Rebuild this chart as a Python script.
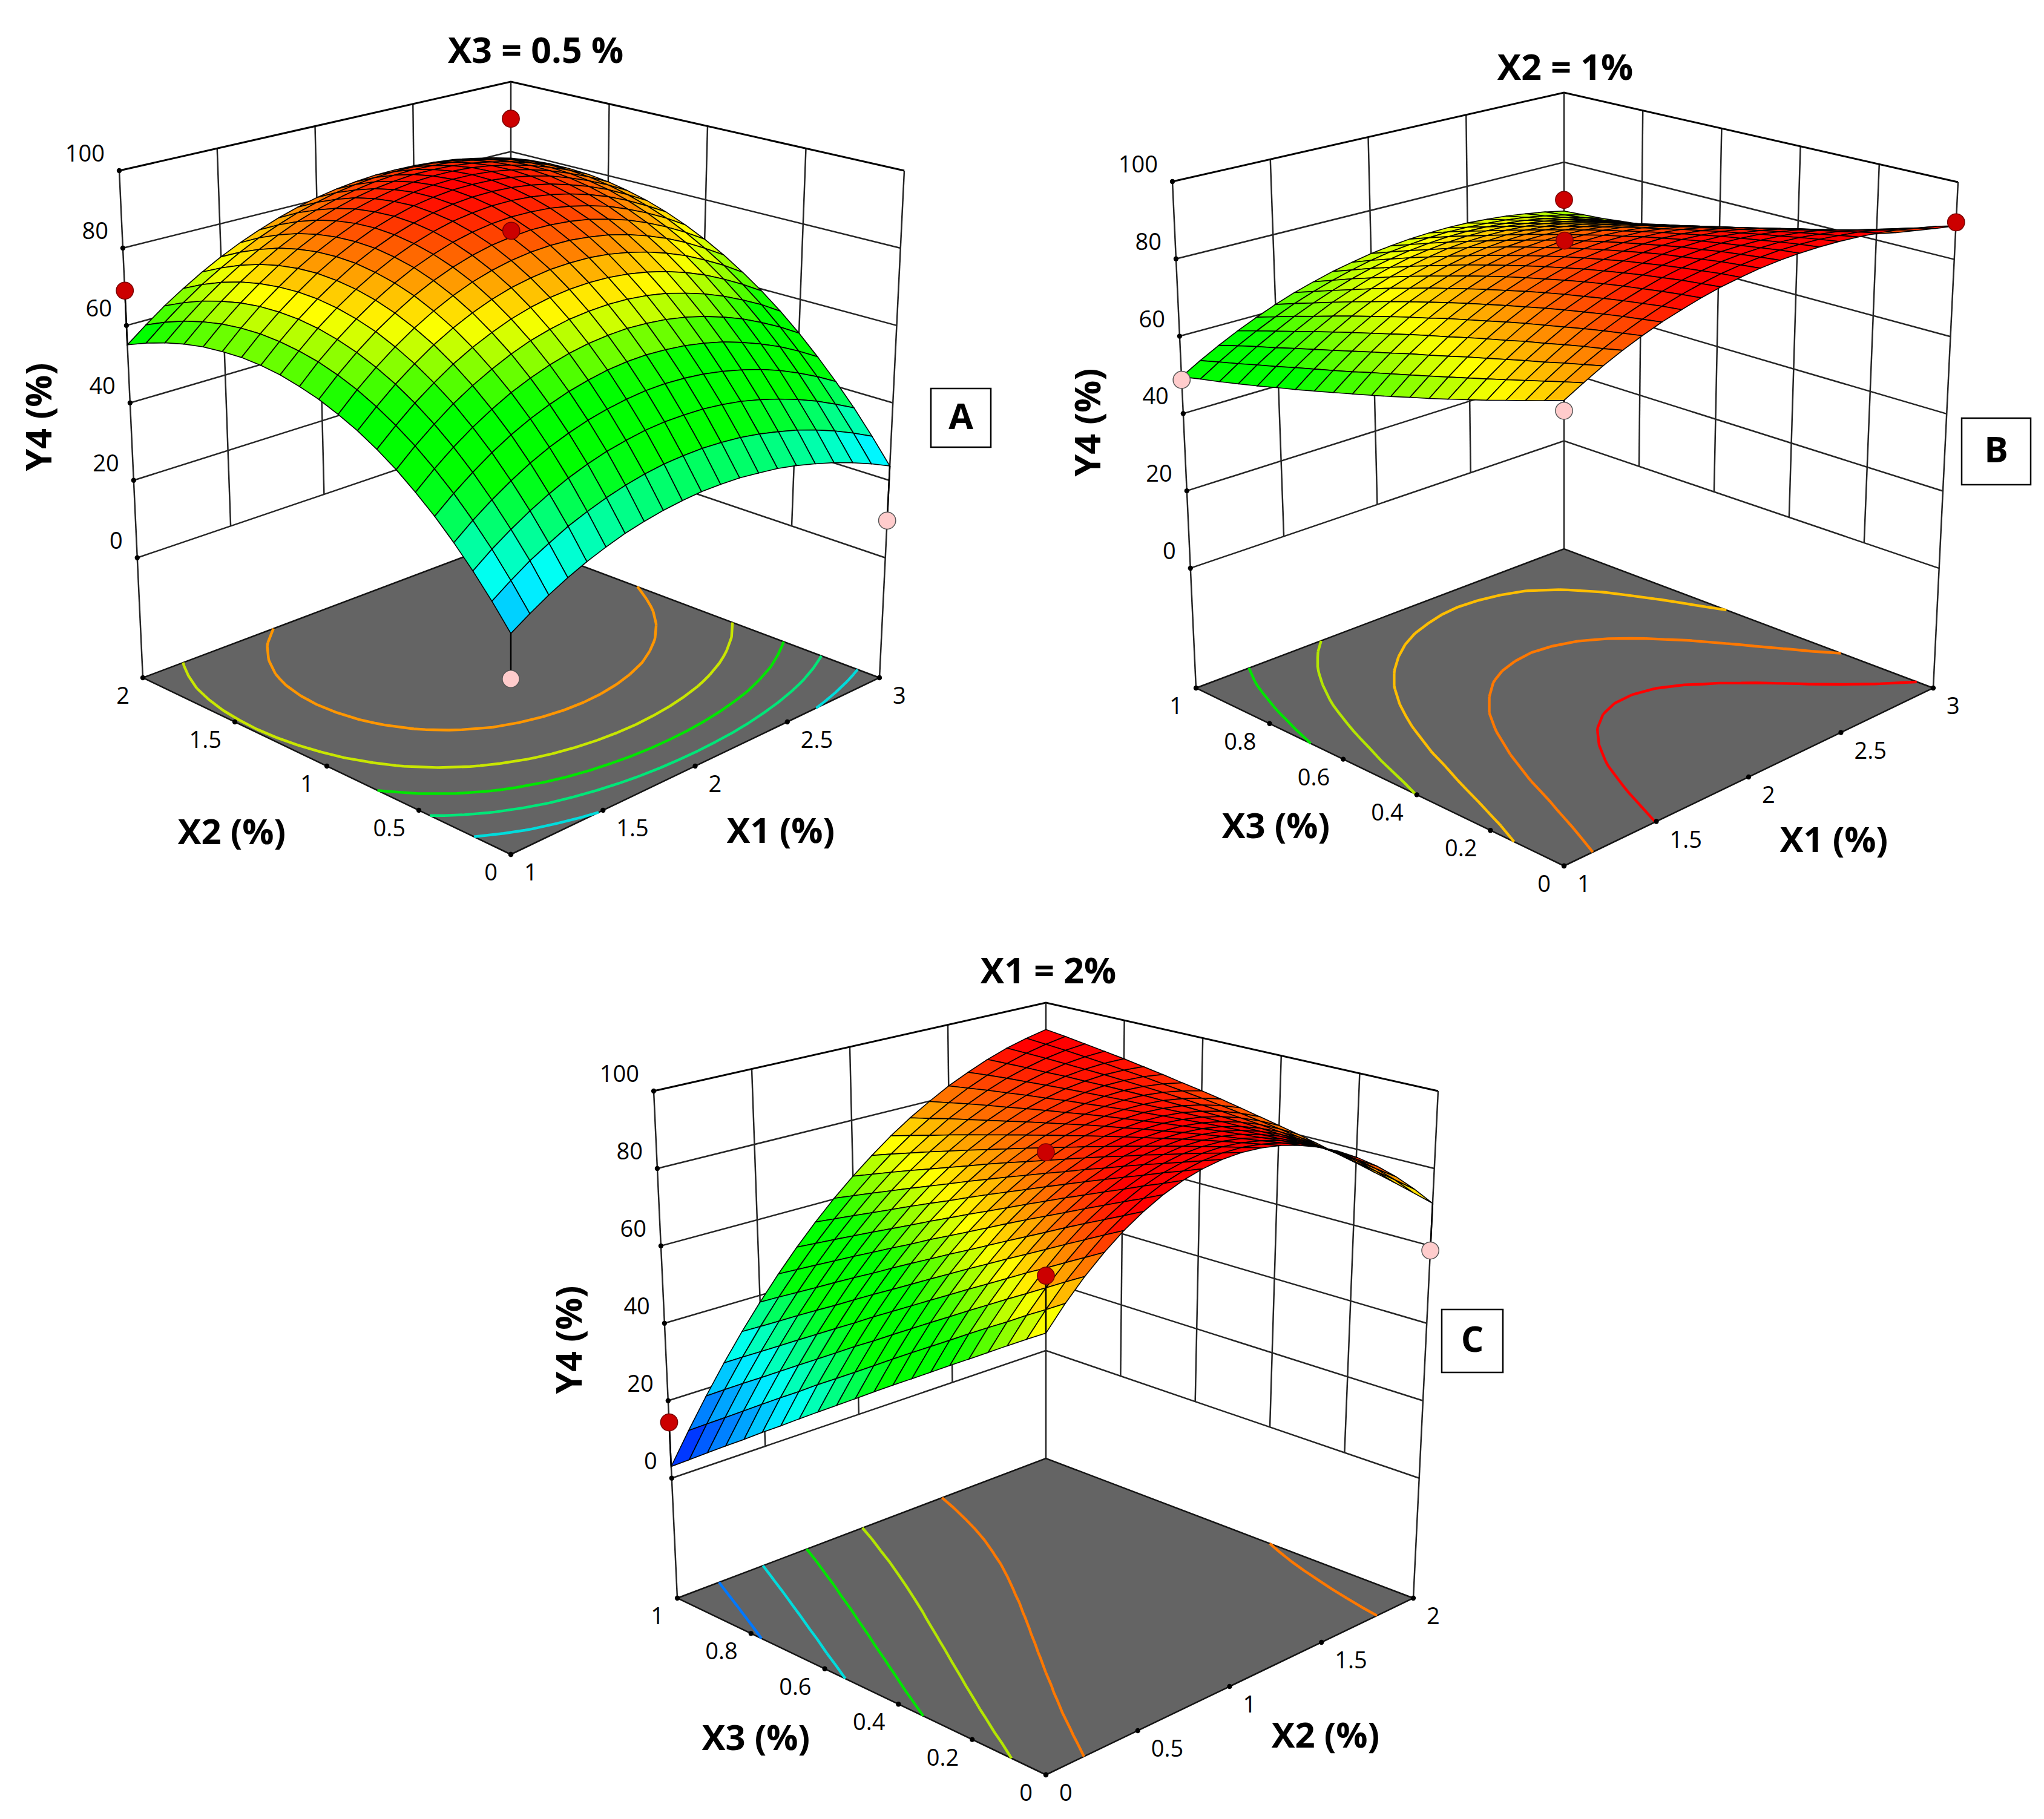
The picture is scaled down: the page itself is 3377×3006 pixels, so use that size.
import numpy as np, pandas as pd, altair as alt

W, H, M = 3361, 2990, 8
Z_TICKS = [0, 20, 40, 60, 80, 100]
Z_FLOOR = -31

# screen corners: floor front/right/left/back, then top front/right/left/back
A_CORNERS = [(844,1412),(1453,1120),(236,1120),(844,891),(844,474),(1494,282),(197,282),(844,135)]
B_CORNERS = [(2584,1431),(3194,1137),(1976,1137),(2584,907),(2584,489),(3235,301),(1937,300),(2584,153)]
C_CORNERS = [(1728,2933),(2335,2641),(1119,2641),(1728,2410),(1728,1991),(2376,1803),(1080,1803),(1728,1657)]

A_RIGHT = ["1","1.5","2","2.5","3"]; A_LEFT = ["0","0.5","1","1.5","2"]
B_RIGHT = ["1","1.5","2","2.5","3"]; B_LEFT = ["0","0.2","0.4","0.6","0.8","1"]
C_RIGHT = ["0","0.5","1","1.5","2"]; C_LEFT = ["0","0.2","0.4","0.6","0.8","1"]

# Y4: one row per step along the left floor axis, one value per step along the right floor axis
Z_A = [
[20.0,22.8,25.4,27.7,29.7,31.4,32.9,34.0,34.9,35.5,35.9,35.9,35.7,35.1,34.4,33.3,31.9,30.3,28.4,26.2,23.7],
[25.7,28.8,31.7,34.1,36.4,38.2,39.8,41.1,42.1,42.8,43.1,43.2,42.9,42.4,41.5,40.3,38.9,37.1,35.0,32.6,29.9],
[31.0,34.4,37.4,40.1,42.5,44.6,46.3,47.7,48.7,49.5,49.9,49.9,49.7,49.1,48.2,46.9,45.3,43.4,41.2,38.6,35.8],
[35.9,39.5,42.7,45.6,48.2,50.4,52.2,53.7,54.8,55.6,56.1,56.2,55.9,55.3,54.3,53.0,51.4,49.4,47.0,44.3,41.2],
[40.4,44.2,47.6,50.7,53.4,55.7,57.6,59.2,60.4,61.3,61.8,61.9,61.6,61.0,60.0,58.7,56.9,54.8,52.4,49.5,46.3],
[44.4,48.4,52.0,55.2,58.0,60.5,62.5,64.2,65.5,66.4,66.9,67.1,66.8,66.2,65.2,63.8,62.0,59.9,57.3,54.4,51.1],
[48.1,52.2,55.9,59.3,62.2,64.7,66.9,68.7,70.0,71.0,71.5,71.7,71.5,70.9,69.9,68.4,66.6,64.4,61.8,58.9,55.5],
[51.3,55.5,59.4,62.8,65.9,68.5,70.7,72.6,74.0,75.0,75.6,75.8,75.6,75.0,74.0,72.6,70.8,68.6,65.9,62.9,59.5],
[54.1,58.4,62.4,65.9,69.1,71.8,74.1,76.0,77.5,78.5,79.2,79.4,79.3,78.7,77.7,76.3,74.5,72.3,69.6,66.6,63.1],
[56.4,60.9,64.9,68.5,71.7,74.5,76.9,78.9,80.4,81.5,82.2,82.5,82.4,81.8,80.9,79.5,77.7,75.5,72.9,69.8,66.4],
[58.4,62.9,67.0,70.7,73.9,76.8,79.2,81.2,82.8,84.0,84.7,85.1,85.0,84.5,83.6,82.2,80.5,78.3,75.7,72.7,69.3],
[59.9,64.5,68.6,72.3,75.6,78.5,81.0,83.0,84.7,85.9,86.7,87.1,87.0,86.6,85.7,84.4,82.8,80.6,78.1,75.2,71.8],
[61.1,65.6,69.8,73.5,76.8,79.7,82.2,84.3,86.0,87.3,88.1,88.6,88.6,88.2,87.4,86.2,84.6,82.6,80.1,77.2,74.0],
[61.8,66.3,70.5,74.2,77.5,80.5,83.0,85.1,86.8,88.1,89.0,89.5,89.6,89.3,88.6,87.5,85.9,84.0,81.7,78.9,75.8],
[62.1,66.6,70.7,74.4,77.8,80.7,83.2,85.4,87.1,88.5,89.4,90.0,90.1,89.9,89.3,88.3,86.9,85.0,82.8,80.2,77.2],
[61.9,66.4,70.5,74.1,77.5,80.4,82.9,85.1,86.8,88.2,89.3,89.9,90.1,90.0,89.5,88.6,87.3,85.6,83.5,81.1,78.3],
[61.4,65.8,69.8,73.4,76.7,79.6,82.1,84.3,86.1,87.5,88.6,89.3,89.6,89.6,89.2,88.4,87.2,85.7,83.8,81.6,79.0],
[60.4,64.7,68.6,72.2,75.4,78.3,80.8,83.0,84.8,86.3,87.4,88.1,88.6,88.6,88.3,87.7,86.7,85.4,83.7,81.7,79.3],
[59.0,63.2,67.0,70.5,73.6,76.4,78.9,81.1,82.9,84.4,85.6,86.5,87.0,87.2,87.0,86.6,85.8,84.6,83.2,81.4,79.3],
[57.2,61.2,64.9,68.3,71.3,74.1,76.6,78.7,80.6,82.1,83.4,84.3,84.9,85.2,85.2,84.9,84.3,83.4,82.2,80.7,78.9],
[55.0,58.8,62.4,65.6,68.6,71.3,73.7,75.8,77.7,79.3,80.6,81.6,82.3,82.8,82.9,82.8,82.4,81.8,80.8,79.6,78.1],
]
Z_B = [
[76.0,78.6,81.1,83.3,85.3,87.1,88.6,90.0,91.2,92.1,92.9,93.4,93.7,93.8,93.7,93.4,92.9,92.2,91.2,90.1,88.7],
[74.5,77.4,80.0,82.3,84.5,86.4,88.1,89.5,90.7,91.7,92.4,92.9,93.2,93.2,93.0,92.5,91.9,90.9,89.8,88.4,86.8],
[73.0,76.1,78.9,81.4,83.7,85.7,87.4,88.9,90.2,91.1,91.9,92.3,92.5,92.5,92.2,91.6,90.8,89.7,88.4,86.8,85.0],
[71.6,74.8,77.7,80.4,82.8,84.9,86.7,88.2,89.5,90.5,91.2,91.7,91.8,91.7,91.3,90.7,89.8,88.5,87.0,85.3,83.2],
[70.1,73.5,76.6,79.3,81.8,84.0,85.9,87.5,88.8,89.8,90.5,90.9,91.1,90.9,90.5,89.7,88.7,87.3,85.7,83.8,81.6],
[68.7,72.2,75.4,78.3,80.8,83.1,85.0,86.7,88.0,89.0,89.8,90.2,90.3,90.1,89.5,88.7,87.6,86.2,84.4,82.4,80.0],
[67.3,70.9,74.2,77.1,79.8,82.1,84.1,85.8,87.1,88.2,88.9,89.3,89.4,89.1,88.6,87.7,86.5,85.0,83.2,81.0,78.5],
[65.9,69.6,73.0,76.0,78.7,81.0,83.1,84.8,86.2,87.2,87.9,88.3,88.4,88.1,87.5,86.6,85.4,83.8,81.9,79.7,77.1],
[64.6,68.3,71.7,74.8,77.5,79.9,82.0,83.7,85.1,86.2,86.9,87.3,87.4,87.1,86.5,85.5,84.2,82.6,80.7,78.4,75.8],
[63.2,67.0,70.4,73.5,76.3,78.7,80.8,82.6,84.0,85.1,85.8,86.2,86.2,86.0,85.3,84.4,83.1,81.5,79.5,77.2,74.5],
[61.9,65.7,69.2,72.3,75.1,77.5,79.6,81.4,82.8,83.9,84.6,85.0,85.1,84.8,84.2,83.2,81.9,80.3,78.3,76.0,73.3],
[60.6,64.4,67.8,71.0,73.7,76.2,78.3,80.1,81.5,82.6,83.3,83.8,83.8,83.6,83.0,82.0,80.7,79.1,77.2,74.9,72.2],
[59.3,63.0,66.5,69.6,72.4,74.8,76.9,78.7,80.1,81.2,82.0,82.4,82.5,82.3,81.7,80.8,79.5,78.0,76.1,73.8,71.2],
[58.0,61.7,65.1,68.2,71.0,73.4,75.5,77.2,78.7,79.8,80.6,81.0,81.1,80.9,80.4,79.5,78.3,76.8,75.0,72.8,70.3],
[56.7,60.4,63.7,66.8,69.5,71.9,73.9,75.7,77.1,78.2,79.0,79.5,79.7,79.5,79.0,78.2,77.1,75.7,73.9,71.8,69.4],
[55.5,59.1,62.3,65.3,68.0,70.3,72.4,74.1,75.5,76.6,77.5,77.9,78.1,78.0,77.6,76.9,75.9,74.5,72.9,70.9,68.7],
[54.2,57.7,60.9,63.8,66.4,68.7,70.7,72.4,73.8,74.9,75.8,76.3,76.5,76.5,76.2,75.5,74.6,73.4,71.9,70.1,68.0],
[53.0,56.4,59.4,62.2,64.7,67.0,68.9,70.6,72.0,73.2,74.0,74.6,74.9,74.9,74.7,74.1,73.3,72.3,70.9,69.3,67.4],
[51.8,55.0,58.0,60.6,63.1,65.2,67.1,68.8,70.2,71.3,72.2,72.8,73.2,73.3,73.1,72.7,72.1,71.1,70.0,68.5,66.8],
[50.7,53.7,56.5,59.0,61.3,63.4,65.2,66.8,68.2,69.4,70.3,70.9,71.4,71.6,71.5,71.2,70.7,70.0,69.0,67.8,66.4],
[49.5,52.3,54.9,57.3,59.5,61.5,63.3,64.8,66.2,67.3,68.3,69.0,69.5,69.8,69.9,69.8,69.4,68.9,68.1,67.2,66.0],
]
Z_C = [
[70.5,75.9,80.7,84.9,88.6,91.7,94.3,96.3,97.7,98.6,98.9,98.6,97.8,96.4,94.5,92.0,88.9,85.3,81.1,76.3,71.0],
[67.6,73.0,78.0,82.3,86.2,89.4,92.1,94.3,95.9,97.0,97.5,97.5,96.9,95.8,94.1,91.8,89.1,85.7,81.8,77.4,72.4],
[64.6,70.2,75.2,79.7,83.7,87.1,90.0,92.4,94.2,95.4,96.2,96.4,96.0,95.1,93.7,91.7,89.2,86.2,82.6,78.4,73.8],
[61.5,67.2,72.4,77.0,81.2,84.8,87.8,90.3,92.3,93.8,94.8,95.2,95.1,94.4,93.2,91.5,89.3,86.5,83.3,79.4,75.1],
[58.4,64.3,69.6,74.4,78.6,82.4,85.6,88.3,90.5,92.2,93.3,94.0,94.1,93.7,92.8,91.3,89.4,86.9,83.9,80.4,76.4],
[55.3,61.3,66.7,71.6,76.0,79.9,83.3,86.2,88.6,90.5,91.9,92.7,93.1,92.9,92.3,91.1,89.4,87.2,84.5,81.3,77.6],
[52.1,58.2,63.8,68.8,73.4,77.4,81.0,84.1,86.7,88.7,90.3,91.4,92.0,92.1,91.7,90.8,89.4,87.5,85.1,82.2,78.9],
[48.9,55.1,60.8,66.0,70.7,74.9,78.7,81.9,84.7,87.0,88.8,90.1,90.9,91.2,91.1,90.5,89.4,87.8,85.7,83.1,80.1],
[45.7,52.0,57.8,63.1,68.0,72.3,76.3,79.7,82.7,85.1,87.2,88.7,89.8,90.4,90.5,90.1,89.3,88.0,86.2,83.9,81.2],
[42.4,48.8,54.7,60.2,65.2,69.7,73.8,77.4,80.6,83.3,85.5,87.3,88.6,89.4,89.8,89.7,89.2,88.1,86.7,84.7,82.3],
[39.0,45.5,51.6,57.2,62.4,67.1,71.3,75.1,78.5,81.4,83.8,85.8,87.4,88.5,89.1,89.3,89.0,88.3,87.1,85.5,83.4],
[35.6,42.2,48.4,54.2,59.5,64.4,68.8,72.8,76.4,79.5,82.1,84.3,86.1,87.5,88.4,88.8,88.8,88.4,87.5,86.2,84.5],
[32.2,38.9,45.3,51.2,56.6,61.7,66.3,70.4,74.2,77.5,80.4,82.8,84.8,86.4,87.6,88.3,88.6,88.5,87.9,86.9,85.5],
[28.7,35.6,42.0,48.0,53.7,58.9,63.6,68.0,71.9,75.5,78.6,81.2,83.5,85.3,86.7,87.7,88.3,88.5,88.2,87.5,86.4],
[25.1,32.1,38.7,44.9,50.7,56.0,61.0,65.5,69.7,73.4,76.7,79.6,82.1,84.2,85.9,87.2,88.0,88.5,88.5,88.2,87.4],
[21.6,28.7,35.4,41.7,47.6,53.2,58.3,63.0,67.4,71.3,74.8,78.0,80.7,83.0,85.0,86.5,87.7,88.4,88.8,88.7,88.3],
[17.9,25.2,32.0,38.5,44.6,50.3,55.6,60.5,65.0,69.2,72.9,76.3,79.3,81.8,84.0,85.9,87.3,88.4,89.0,89.3,89.2],
[14.3,21.6,28.6,35.2,41.5,47.3,52.8,57.9,62.6,67.0,71.0,74.6,77.8,80.6,83.1,85.2,86.9,88.2,89.2,89.8,90.0],
[10.6,18.0,25.2,31.9,38.3,44.3,50.0,55.3,60.2,64.8,69.0,72.8,76.2,79.4,82.1,84.5,86.5,88.1,89.4,90.3,90.8],
[6.8,14.4,21.7,28.6,35.1,41.3,47.1,52.6,57.7,62.5,66.9,71.0,74.7,78.0,81.0,83.7,86.0,87.9,89.5,90.7,91.6],
[3.0,10.7,18.1,25.2,31.9,38.2,44.2,49.9,55.2,60.2,64.8,69.1,73.1,76.7,79.9,82.9,85.4,87.7,89.6,91.1,92.3],
]

A_LEVELS = [(31,"#00dcdc"),(42,"#00e678"),(52,"#00e600"),(63,"#c8e600"),(76,"#ff9600")]
B_LEVELS = [(57,"#00e600"),(64.5,"#b4e600"),(72,"#ffbe00"),(80,"#ff7800"),(87,"#ff0000")]
C_LEVELS = [(20,"#0078ff"),(36,"#00dcdc"),(50,"#00e600"),(65,"#b4e600"),(81,"#ff7800")]

A_POINTS = [(1,1,89.4,"r",True),(.5,.5,86.3,"r",False),(0,1,69,"r",False),(1,0,9.6,"p",False),(0,0,9.5,"p",False)]
B_POINTS = [(1,1,69.2,"r",True),(.5,.5,86.5,"r",False),(1,0,89.6,"r",False),(0,1,48.7,"p",False),(0,0,73.6,"p",False)]
C_POINTS = [(.5,.5,85.9,"r",False),(0,0,83.7,"r",False),(0,1,14.4,"r",False),(1,0,58.8,"p",False)]

A_TEXT = dict(title=("X3 = 0.5 %",885,86), left=("X2 (%)",383,1378), right=("X1 (%)",1290,1376), y=("Y4 (%)",67,689), box=("A",1538,642,1637,739))
B_TEXT = dict(title=("X2 = 1%",2586,114), left=("X3 (%)",2108,1368), right=("X1 (%)",3030,1391), y=("Y4 (%)",1800,698), box=("B",3241,691,3355,801))
C_TEXT = dict(title=("X1 = 2%",1732,1607), left=("X3 (%)",1249,2875), right=("X2 (%)",2190,2871), y=("Y4 (%)",943,2214), box=("C",2382,2164,2483,2268))

STOPS = [(3,(0,0,255)),(29,(0,255,255)),(46,(0,255,0)),(58,(0,255,0)),(72,(255,255,0)),(90,(255,0,0))]
RED, PINK = "#cc0000", "#ffcccc"

def colour(z):
    if z <= STOPS[0][0]: return "#%02x%02x%02x" % STOPS[0][1]
    for (a, ca), (b, cb) in zip(STOPS, STOPS[1:]):
        if z <= b:
            f = (z-a)/(b-a)
            return "#%02x%02x%02x" % tuple(int(round(p+(q-p)*f)) for p, q in zip(ca, cb))
    return "#%02x%02x%02x" % STOPS[-1][1]

def camera(corners):
    C = np.array(corners, float)
    def proj(u, v, z):
        t = (z-Z_FLOOR)/(100-Z_FLOOR)
        def face(c):
            return (1-u)*(1-v)*c[0] + u*(1-v)*c[1] + (1-u)*v*c[2] + u*v*c[3]
        p = (1-t)*face(C[:4]) + t*face(C[4:])
        return [float(p[0]-M), float(p[1]-M)]
    return proj

def feature(kind, coords, fill, stroke, width):
    return {"type":"Feature","geometry":{"type":kind,"coordinates":coords},
            "properties":{"f":fill,"s":stroke,"w":width}}

def contours(Z, level, proj):
    Z = np.array(Z); n, m = Z.shape
    segs = []
    for j in range(n-1):
        for i in range(m-1):
            c = [(i,j),(i+1,j),(i+1,j+1),(i,j+1)]
            pts = []
            for k in range(4):
                a, b = c[k], c[(k+1)%4]
                za, zb = Z[a[1],a[0]], Z[b[1],b[0]]
                if (za >= level) != (zb >= level):
                    f = (level-za)/(zb-za)
                    pts.append(((a[0]+(b[0]-a[0])*f)/(m-1), (a[1]+(b[1]-a[1])*f)/(n-1)))
            for s in range(0, len(pts)-1, 2):
                segs.append([proj(pts[s][0],pts[s][1],Z_FLOOR), proj(pts[s+1][0],pts[s+1][1],Z_FLOOR)])
    return segs

back_geo, top_geo, back_pts, front_pts, dots = [], [], [], [], []
labels_r, labels_l, bold, rotated, titles = [], [], [], [], []

def panel(corners, z_grid, levels, points, right, left, text):
    proj = camera(corners)
    LW, LC = 2.5, "#262626"
    nr, nl = len(right)-1, len(left)-1
    for k in range(1, nr):
        back_geo.append(feature("LineString",[proj(k/nr,1,0),proj(k/nr,1,100)],"transparent",LC,LW))
    for k in range(1, nl):
        back_geo.append(feature("LineString",[proj(1,k/nl,0),proj(1,k/nl,100)],"transparent",LC,LW))
    for z in Z_TICKS:
        col, w = ("#000000",3) if z == 100 else (LC,LW)
        back_geo.append(feature("LineString",[proj(0,1,z),proj(1,1,z),proj(1,0,z)],"transparent",col,w))
    for u,v in [(0,1),(1,0),(1,1)]:
        back_geo.append(feature("LineString",[proj(u,v,Z_FLOOR),proj(u,v,100)],"transparent",LC,LW))
    back_geo.append(feature("Polygon",[[proj(0,0,Z_FLOOR),proj(1,0,Z_FLOOR),proj(1,1,Z_FLOOR),proj(0,1,Z_FLOOR),proj(0,0,Z_FLOOR)]],"#646464","#141414",2.5))
    for level, col in levels:
        back_geo.append(feature("MultiLineString",contours(z_grid,level,proj),"transparent",col,4.4))
    Z = np.array(z_grid); n, m = Z.shape
    cells = sorted(((j,i) for j in range(n-1) for i in range(m-1)), key=lambda c:-(c[0]/(n-1)+c[1]/(m-1)))
    for j,i in cells:
        q = [(i,j),(i+1,j),(i+1,j+1),(i,j+1)]
        ring = [proj(a/(m-1),b/(n-1),Z[b,a]) for a,b in q]
        ring.append(ring[0])
        top_geo.append(feature("Polygon",[ring],colour(float(Z[[j,j,j+1,j+1],[i,i+1,i+1,i]].mean())),"#000000",1.6))
    for u,v,z,kind,behind in points:
        x,y = proj(u,v,z)
        rec = {"x":x,"y":y,"c":RED if kind=="r" else PINK,"s":"#7a0000" if kind=="r" else "#555555"}
        (back_pts if behind else front_pts).append(rec)
        if not behind:
            zs = Z[int(round(v*(n-1))),int(round(u*(m-1)))]
            top_geo.append(feature("LineString",[proj(u,v,z),proj(u,v,zs)],"transparent","#000000",2.5))
    for z in Z_TICKS:
        x,y = proj(0,1,z); dots.append({"x":x,"y":y})
        labels_r.append({"x":x-24,"y":y-26,"t":str(z)})
    for k,lab in enumerate(right):
        x,y = proj(k/nr,0,Z_FLOOR); dots.append({"x":x,"y":y})
        labels_l.append({"x":x+22,"y":y+32,"t":lab})
    for k,lab in enumerate(left):
        x,y = proj(0,k/nl,Z_FLOOR); dots.append({"x":x,"y":y})
        labels_r.append({"x":x-22,"y":y+32,"t":lab})
    for key in ("left","right"):
        s,x,y = text[key]; bold.append({"x":x-M,"y":y-M,"t":s})
    s,x,y = text["title"]; titles.append({"x":x-M,"y":y-M,"t":s})
    s,x,y = text["y"]; rotated.append({"x":x-M,"y":y-M,"t":s})
    s,x0,y0,x1,y1 = text["box"]
    r = [[x0-M,y0-M],[x1-M,y0-M],[x1-M,y1-M],[x0-M,y1-M],[x0-M,y0-M]]
    top_geo.append(feature("Polygon",[r],"#ffffff","#000000",2.5))
    titles.append({"x":(x0+x1)/2-M,"y":(y0+y1)/2-M,"t":s})

panel(A_CORNERS,Z_A,A_LEVELS,A_POINTS,A_RIGHT,A_LEFT,A_TEXT)
panel(B_CORNERS,Z_B,B_LEVELS,B_POINTS,B_RIGHT,B_LEFT,B_TEXT)
panel(C_CORNERS,Z_C,C_LEVELS,C_POINTS,C_RIGHT,C_LEFT,C_TEXT)

sx = alt.X("x:Q",scale=alt.Scale(domain=[0,W]),axis=None)
sy = alt.Y("y:Q",scale=alt.Scale(domain=[H,0]),axis=None)

def geo(features):
    return alt.Chart(alt.Data(values=features)).mark_geoshape().encode(
        fill=alt.Fill("properties.f:N",scale=None),
        stroke=alt.Stroke("properties.s:N",scale=None),
        strokeWidth=alt.StrokeWidth("properties.w:Q",scale=None),
    ).project(type="identity",scale=1,translate=[0,0])

def pts(rows):
    return alt.Chart(pd.DataFrame(rows)).mark_point(filled=True,size=800,opacity=1,strokeWidth=1.5).encode(
        x=sx,y=sy,fill=alt.Fill("c:N",scale=None),stroke=alt.Stroke("s:N",scale=None))

def txt(rows,**kw):
    return alt.Chart(pd.DataFrame(rows)).mark_text(color="#000000",baseline="middle",**kw).encode(x=sx,y=sy,text="t:N")

chart = alt.layer(
    geo(back_geo), pts(back_pts), geo(top_geo), pts(front_pts),
    alt.Chart(pd.DataFrame(dots)).mark_circle(size=70,color="#000000",opacity=1).encode(x=sx,y=sy),
    txt(labels_r,align="right",font="Open Sans",fontSize=38),
    txt(labels_l,align="left",font="Open Sans",fontSize=38),
    txt(bold,align="center",font="Open Sans",fontSize=58,fontWeight="bold"),
    txt(titles,align="center",font="Open Sans",fontSize=59,fontWeight="bold"),
    txt(rotated,align="center",font="Open Sans",fontSize=59,fontWeight="bold",angle=270),
).properties(width=W,height=H,padding=0,autosize=alt.AutoSizeParams(type="none")).configure_view(stroke=None)

chart.save("out.html", embed_options={"renderer":"svg","actions":False})
